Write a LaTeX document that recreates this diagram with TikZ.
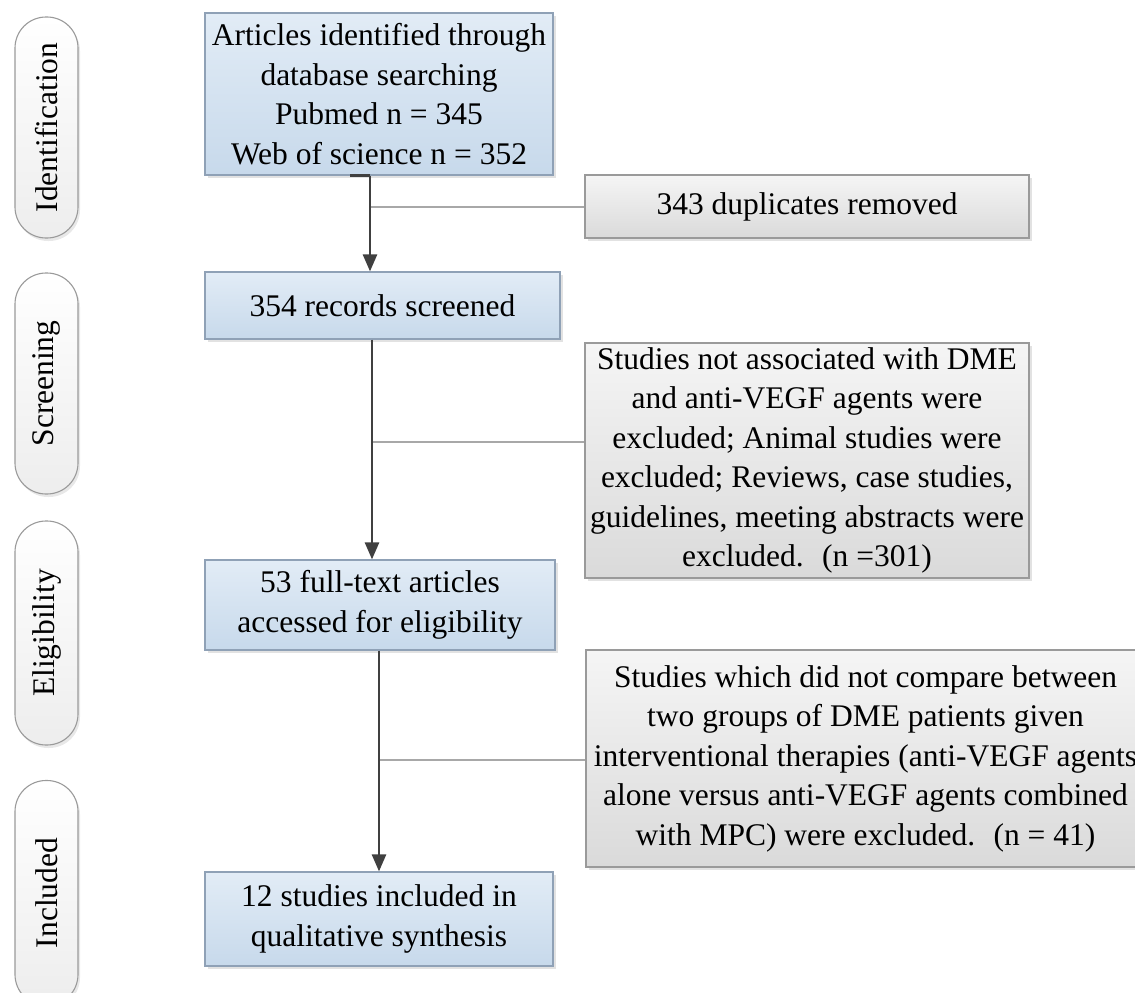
\documentclass[tikz,border=0pt]{standalone}
\usepackage{fontspec}
\setmainfont{Liberation Serif}
\usetikzlibrary{arrows.meta,shadows}
\definecolor{bluetop}{HTML}{E2ECF6}
\definecolor{bluebot}{HTML}{C7D9EB}
\definecolor{blueedge}{HTML}{8FA1B6}
\definecolor{graytop}{HTML}{F5F5F5}
\definecolor{graybot}{HTML}{DADADA}
\definecolor{grayedge}{HTML}{9A9A9A}
\definecolor{arrowcol}{HTML}{404040}
\definecolor{linecol}{HTML}{A8A8A8}
\begin{document}
\begin{tikzpicture}[x=1pt,y=-1pt,
  font=\fontsize{31.5}{39.5}\selectfont,
  base/.style={draw, line width=1.2pt, align=center, inner sep=2pt,
    drop shadow={shadow xshift=3pt,shadow yshift=-3pt,opacity=0.25,fill=black!45}},
  bluebox/.style={base, draw=blueedge, top color=bluetop, bottom color=bluebot},
  graybox/.style={base, draw=grayedge, top color=graytop, bottom color=graybot},
  pill/.style={draw=grayedge, line width=1.1pt, rounded corners=31pt, inner sep=0pt,
    minimum height=63pt, rotate=90, top color=white, bottom color=black!7,
    drop shadow={shadow xshift=2pt,shadow yshift=-3pt,opacity=0.2,fill=black!45}},
  arrowline/.style={draw=arrowcol, line width=2.6pt, -{Triangle[length=17pt,width=14pt]}},
  stubline/.style={draw=arrowcol, line width=2.6pt},
  thinline/.style={draw=linecol, line width=1.2pt}]
\useasboundingbox (0,0) rectangle (1135,993);
% stage pills
\node[pill, minimum width=221pt] (p1) at (46.5,127.5) {Identification};
\node[pill, minimum width=221pt] (p2) at (46.5,383.5) {Screening};
\node[pill, minimum width=224pt] (p3) at (46.5,633) {Eligibility};
\node[pill, minimum width=225pt] (p4) at (46.5,893) {Included};
% main boxes
\node[bluebox, minimum width=348pt, minimum height=162pt] (b1) at (379,94)
  {Articles identified through\\database searching\\Pubmed n = 345\\Web of science n = 352};
\node[bluebox, minimum width=355pt, minimum height=67pt] (b2) at (382.5,305.5)
  {354 records screened};
\node[bluebox, minimum width=350pt, minimum height=90pt] (b3) at (380,605)
  {53 full-text articles\\accessed for eligibility};
\node[bluebox, minimum width=348pt, minimum height=94pt] (b4) at (379,919)
  {12 studies included in\\qualitative synthesis};
% exclusion boxes
\node[graybox, minimum width=444pt, minimum height=63pt] (e1) at (807,206.5)
  {343 duplicates removed};
\node[graybox, minimum width=444pt, minimum height=235pt] (e2) at (807,460.5)
  {Studies not associated with DME\\and anti-VEGF agents were\\excluded; Animal studies were\\excluded; Reviews, case studies,\\guidelines, meeting abstracts were\\excluded.~ (n =301)};
\node[graybox, minimum width=559pt, minimum height=217pt] (e3) at (865.5,758.5)
  {Studies which did not compare between\\two groups of DME patients given\\interventional therapies (anti-VEGF agents\\alone versus anti-VEGF agents combined\\with MPC) were excluded.~ (n = 41)};
% helper coordinates
\coordinate (s1) at (350,0);
\coordinate (c1) at (370,0);
\coordinate (c2) at (372,0);
\coordinate (c3) at (379,0);
\coordinate (h1) at (0,207);
\coordinate (h2) at (0,442);
\coordinate (h3) at (0,760);
% side connectors
\draw[thinline] (h1 -| c1) -- (h1 -| e1.west);
\draw[thinline] (h2 -| c2) -- (h2 -| e2.west);
\draw[thinline] (h3 -| c3) -- (h3 -| e3.west);
% main arrows
\draw[stubline] (b1.south -| s1) -- (b1.south -| c1);
\draw[arrowline] (b1.south -| c1) -- (b2.north -| c1);
\draw[arrowline] (b2.south -| c2) -- (b3.north -| c2);
\draw[arrowline] (b3.south -| c3) -- (b4.north -| c3);
\end{tikzpicture}
\end{document}
